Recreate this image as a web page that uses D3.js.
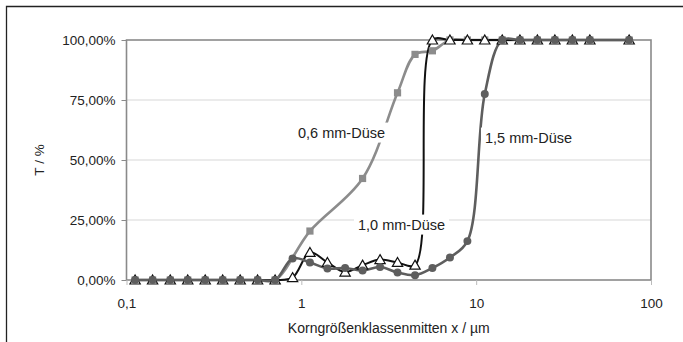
<!DOCTYPE html>
<html>
<head>
<meta charset="utf-8">
<script src="https://cdn.jsdelivr.net/npm/d3@7"></script>
<style>
  body { margin: 0; background: #fff; }
  svg { display: block; font-family: "Liberation Sans", Arial, sans-serif; }
  .tick text { font-size: 13.5px; fill: #222; }
</style>
</head>
<body>
<div id="chart"></div>
<script>
// particle size class centres (µm)
var xClasses = [0.112, 0.141, 0.178, 0.224, 0.282, 0.355, 0.447, 0.562, 0.708, 0.891,
                1.12, 1.41, 1.78, 2.24, 2.82, 3.55, 4.47, 5.62, 7.08, 8.91,
                11.2, 14.1, 17.8, 22.4, 28.2, 35.5, 44.7, 75];

// 0,6 mm nozzle has fewer classes in the rise
var x06 = [0.112, 0.141, 0.178, 0.224, 0.282, 0.355, 0.447, 0.562, 0.708,
           1.12, 2.24, 3.55, 4.47, 5.62, 7.08, 8.91, 11.2, 14.1, 17.8, 22.4, 28.2, 35.5, 44.7, 75];
var y06 = [0, 0, 0, 0, 0, 0, 0, 0, 0,
           20.4, 42.3, 78.0, 94.0, 95.5, 100, 100, 100, 100, 100, 100, 100, 100, 100, 100];

var y10 = [0, 0, 0, 0, 0, 0, 0, 0, 0, 1.0,
           11.5, 7.3, 3.3, 6.2, 8.5, 7.3, 6.2, 100, 100, 100,
           100, 100, 100, 100, 100, 100, 100, 100];

var y15 = [0, 0, 0, 0, 0, 0, 0, 0, 0, 9.0,
           7.3, 4.8, 5.0, 4.0, 5.4, 3.1, 2.0, 5.0, 9.4, 16.2,
           77.5, 100, 100, 100, 100, 100, 100, 100];

var yTicks = [0, 25, 50, 75, 100];
var xTicks = [0.1, 1, 10, 100];
var xTickLabels = ["0,1", "1", "10", "100"];

var seriesLabels = ["0,6 mm-Düse", "1,0 mm-Düse", "1,5 mm-Düse"];

// layout
var W = 683, H = 342;
var plot = {left: 126.5, right: 651, top: 40, bottom: 280};

var svg = d3.select("#chart").append("svg")
  .attr("width", W).attr("height", H);

// frame around the picture (only top and left visible)
svg.append("path")
  .attr("d", "M6.5," + H + "V6.5H" + W)
  .attr("fill", "none").attr("stroke", "#222").attr("stroke-width", 1.3);

var x = d3.scaleLog().domain([0.1, 100]).range([plot.left, plot.right]);
var y = d3.scaleLinear().domain([0, 100]).range([plot.bottom, plot.top]);

var de = d3.formatLocale({decimal: ",", thousands: ".", grouping: [3], currency: ["", " €"]});
var pct = de.format(".2%");

// gridlines
svg.append("g").selectAll("line")
  .data(yTicks.filter(function(d) { return d > 0 && d < 100; }))
  .enter().append("line")
  .attr("x1", plot.left).attr("x2", plot.right)
  .attr("y1", function(d) { return y(d); }).attr("y2", function(d) { return y(d); })
  .attr("stroke", "#d8d8d8").attr("stroke-width", 1.2);

// plot area border
svg.append("rect")
  .attr("x", plot.left).attr("y", plot.top)
  .attr("width", plot.right - plot.left).attr("height", plot.bottom - plot.top)
  .attr("fill", "none").attr("stroke", "#8a8a8a").attr("stroke-width", 1.6);

// axes
var yAxis = d3.axisLeft(y).tickValues(yTicks)
  .tickFormat(function(d) { return pct(d / 100); })
  .tickSize(5).tickPadding(6);
var gy = svg.append("g").attr("transform", "translate(" + plot.left + ",0)").call(yAxis);
gy.select(".domain").remove();
gy.selectAll(".tick line").attr("stroke", "#8a8a8a");

var xAxis = d3.axisBottom(x).tickValues(xTicks)
  .tickFormat(function(d, i) { return xTickLabels[i]; })
  .tickSize(5).tickPadding(13);
var gx = svg.append("g").attr("transform", "translate(0," + plot.bottom + ")").call(xAxis);
gx.select(".domain").remove();
gx.selectAll(".tick line").attr("stroke", "#bbb");

// axis titles
svg.append("text")
  .attr("transform", "translate(44," + ((plot.top + plot.bottom) / 2) + ") rotate(-90)")
  .attr("text-anchor", "middle")
  .attr("font-size", 13.5).attr("fill", "#222")
  .text("T / %");

svg.append("text")
  .attr("x", (plot.left + plot.right) / 2).attr("y", 333)
  .attr("text-anchor", "middle")
  .attr("font-size", 14).attr("fill", "#222")
  .text("Korngrößenklassenmitten x / µm");

// series
var line = d3.line()
  .x(function(d) { return x(d[0]); })
  .y(function(d) { return y(d[1]); })
  .curve(d3.curveCatmullRom.alpha(0.5));

var s06 = d3.zip(x06, y06);
var s10 = d3.zip(xClasses, y10);
var s15 = d3.zip(xClasses, y15);

var series = [
  {name: seriesLabels[0], data: s06, color: "#8c8c8c", width: 2.6, symbol: d3.symbolSquare, size: 52, fill: "#8c8c8c", stroke: "none"},
  {name: seriesLabels[1], data: s10, color: "#111", width: 2, symbol: d3.symbolTriangle, size: 46, fill: "#fff", stroke: "#111"},
  {name: seriesLabels[2], data: s15, color: "#5e5e5e", width: 2.6, symbol: d3.symbolCircle, size: 50, fill: "#5e5e5e", stroke: "none"}
];

series.forEach(function(s) {
  svg.append("path")
    .datum(s.data)
    .attr("d", line)
    .attr("fill", "none")
    .attr("stroke", s.color)
    .attr("stroke-width", s.width);
});

series.forEach(function(s) {
  svg.append("g").selectAll("path")
    .data(s.data)
    .enter().append("path")
    .attr("d", d3.symbol().type(s.symbol).size(s.size))
    .attr("transform", function(d) { return "translate(" + x(d[0]) + "," + (y(d[1]) + (s.symbol === d3.symbolTriangle ? 1 : 0)) + ")"; })
    .attr("fill", s.fill)
    .attr("stroke", s.stroke)
    .attr("stroke-width", 1.2);
});

// in-chart labels on white boxes
var labelPos = [[341.5, 132.5], [401.5, 224.5], [528.5, 137.5]];
seriesLabels.forEach(function(t, i) {
  var g = svg.append("g");
  var txt = g.append("text")
    .attr("x", labelPos[i][0]).attr("y", labelPos[i][1])
    .attr("dy", "0.35em")
    .attr("text-anchor", "middle")
    .attr("font-size", 14.5).attr("fill", "#222")
    .text(t);
  var bb = txt.node().getBBox();
  g.insert("rect", "text")
    .attr("x", bb.x - 4).attr("y", bb.y - 2)
    .attr("width", bb.width + 8).attr("height", bb.height + 4)
    .attr("fill", "#fff");
});
</script>
</body>
</html>
